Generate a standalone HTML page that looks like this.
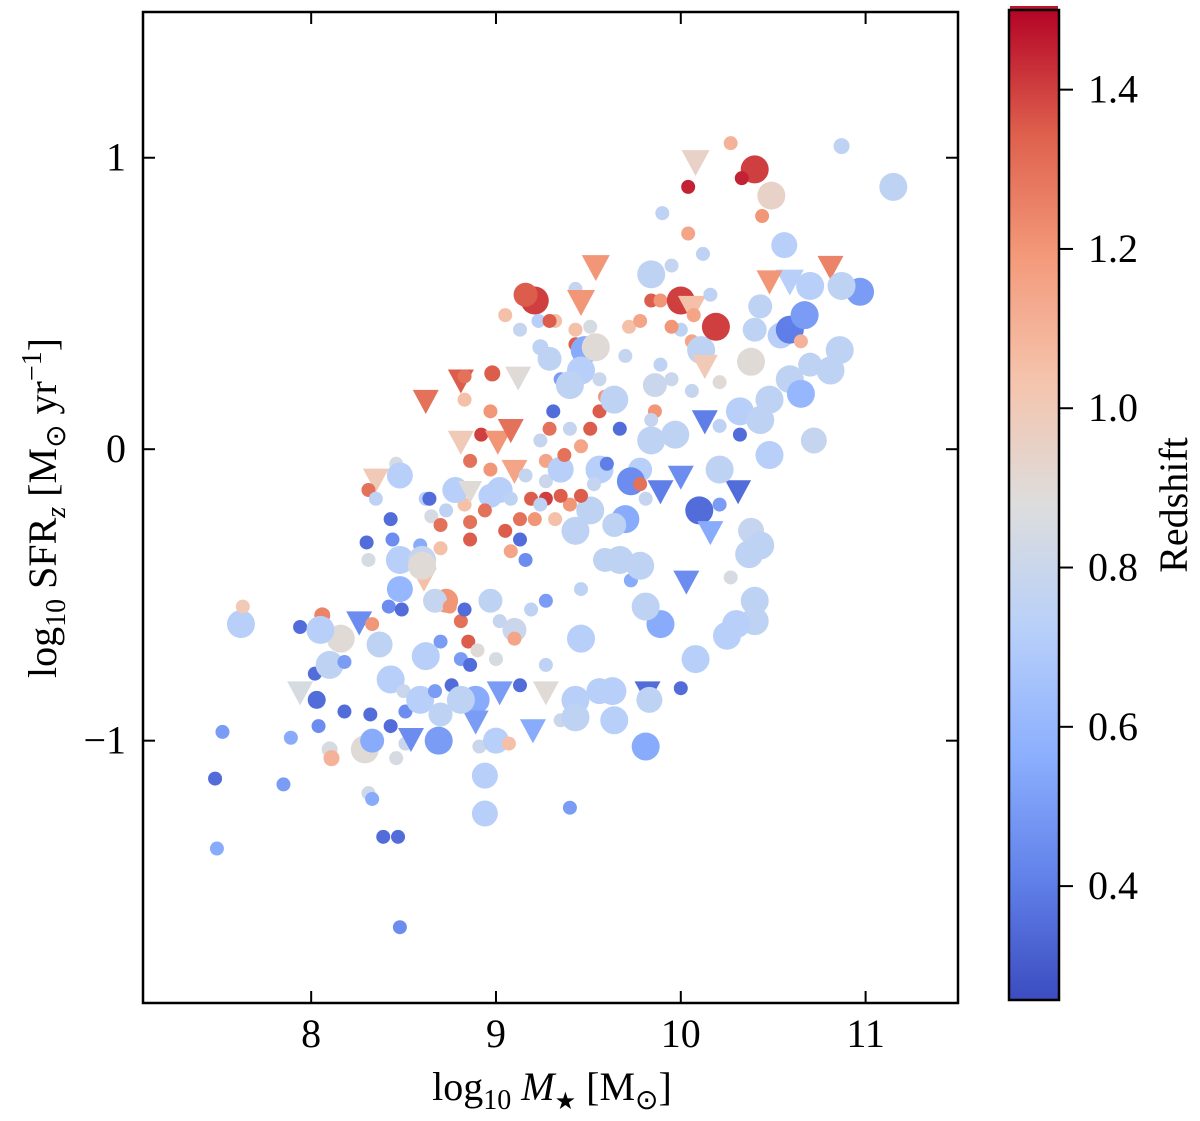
<!DOCTYPE html>
<html><head><meta charset="utf-8">
<style>
html,body{margin:0;padding:0;background:#fff;}
svg text{font-family:"Liberation Serif","Times New Roman",serif;}
</style></head>
<body>
<svg id="chart" width="1200" height="1116" viewBox="0 0 1200 1116" xmlns="http://www.w3.org/2000/svg" font-family="Liberation Serif, serif">
<defs>
<linearGradient id="cbgrad" x1="0" y1="1" x2="0" y2="0">
<stop offset="0" stop-color="rgb(59,76,192)"/>
<stop offset="0.125" stop-color="rgb(98,130,234)"/>
<stop offset="0.25" stop-color="rgb(141,176,254)"/>
<stop offset="0.375" stop-color="rgb(184,208,249)"/>
<stop offset="0.5" stop-color="rgb(221,221,221)"/>
<stop offset="0.625" stop-color="rgb(245,196,173)"/>
<stop offset="0.75" stop-color="rgb(244,154,123)"/>
<stop offset="0.875" stop-color="rgb(222,96,77)"/>
<stop offset="1" stop-color="rgb(180,4,38)"/>
</linearGradient>
<clipPath id="plotclip"><rect x="143" y="12" width="815" height="991"/></clipPath>
</defs>
<g id="points" clip-path="url(#plotclip)"></g>
<rect x="143" y="12" width="815" height="991" fill="none" stroke="#000" stroke-width="2.5"/>
<g id="axes"></g>
<text x="552" y="1100" font-size="40" text-anchor="middle">log<tspan font-size="28" dy="9">10</tspan><tspan dy="-9"> </tspan><tspan font-style="italic">M</tspan><tspan font-size="24" dy="9">★</tspan><tspan dy="-9"> [M</tspan><tspan font-size="28" dy="9">⊙</tspan><tspan dy="-9">]</tspan></text>
<text transform="translate(56,508) rotate(-90)" font-size="40" text-anchor="middle">log<tspan font-size="28" dy="9">10</tspan><tspan dy="-9"> SFR</tspan><tspan font-size="28" font-style="italic" dy="9">z</tspan><tspan dy="-9"> [M</tspan><tspan font-size="28" dy="9">⊙</tspan><tspan dy="-9"> yr</tspan><tspan font-size="28" dy="-15">−1</tspan><tspan dy="15">]</tspan></text>
<rect x="1010" y="6" width="48" height="4" fill="rgb(190,20,45)"/>
<rect x="1009" y="10" width="50" height="990" fill="url(#cbgrad)" stroke="#000" stroke-width="2.5"/>
<g id="cbticks"></g>
<text transform="translate(1187,505) rotate(-90)" font-size="40" text-anchor="middle">Redshift</text>
</svg>
<script>
const mass=[
7.49,7.48,7.52,7.62,7.63,7.85,7.89,7.94,7.94,8.03,
8.04,8.02,8.1,8.1,8.11,8.16,8.06,8.05,8.18,8.18,
8.26,8.31,8.3,8.29,8.33,8.32,8.31,8.33,8.39,8.47,
8.48,8.33,8.37,8.42,8.43,8.43,8.51,8.51,8.46,8.5,
8.54,8.35,8.31,8.35,8.46,8.48,8.43,8.44,8.48,8.48,
8.49,8.59,8.62,8.6,8.61,8.6,8.62,8.65,8.7,8.7,
8.73,8.73,8.7,8.67,8.62,8.59,8.67,8.7,8.76,8.75,
8.81,8.83,8.85,8.81,8.86,8.9,8.89,8.89,8.69,8.81,
8.94,8.94,8.91,9.0,9.07,9.02,9.13,9.2,9.27,9.27,
9.35,9.4,9.43,9.43,9.56,9.46,9.46,9.27,9.19,9.1,
9.02,9.0,9.1,8.97,8.86,8.86,8.83,8.78,8.81,8.81,
8.83,8.83,8.92,8.86,8.97,8.97,9.02,9.01,9.08,9.1,
9.08,9.05,9.13,9.16,9.13,9.19,9.21,9.27,9.27,9.32,
9.35,9.24,9.29,9.31,9.35,9.43,9.43,9.48,9.46,9.29,
9.4,9.21,9.16,9.32,9.43,9.46,9.54,9.51,9.54,9.56,
9.56,9.59,9.64,9.67,9.7,9.72,9.78,9.84,9.89,9.84,
9.95,10.0,10.06,10.0,10.06,10.11,10.19,10.13,10.21,10.13,
10.06,9.95,9.89,9.86,9.84,9.78,9.73,9.78,9.7,9.81,
9.89,10.0,9.97,10.1,10.21,10.16,10.31,10.32,10.21,10.32,
10.43,10.48,10.48,10.59,10.72,10.65,10.7,10.81,10.86,10.54,
10.59,10.65,10.67,10.7,10.59,10.48,10.81,10.97,10.87,10.56,
10.43,10.4,10.38,10.87,11.15,10.4,10.33,10.27,10.49,10.44,
10.08,10.04,9.9,10.04,10.12,10.16,10.07,9.95,9.86,9.84,
10.21,10.38,10.37,10.43,10.4,10.4,10.3,10.25,10.27,10.03,
10.08,10.0,9.82,9.83,9.89,9.81,9.73,9.78,9.67,9.59,
9.63,9.64,9.81,9.43,9.51,9.64,9.56,9.6,9.53,9.46,
9.51,9.4,9.37,9.4,9.46,9.35,9.27,9.24,9.16,9.08,
8.97,8.94,8.86,9.12,8.98,9.05,9.13,9.24,9.23,9.29,
8.64];
const sfr=[
-1.37,-1.13,-0.97,-0.6,-0.54,-1.15,-0.99,-0.61,-0.83,-0.86,
-0.95,-0.77,-0.74,-1.03,-1.06,-0.65,-0.57,-0.62,-0.73,-0.9,
-0.59,-0.38,-0.32,-1.03,-1.0,-0.91,-1.18,-1.2,-1.33,-1.33,
-1.64,-0.6,-0.67,-0.54,-0.79,-0.95,-0.9,-1.01,-1.06,-0.83,
-0.99,-0.1,-0.14,-0.17,-0.05,-0.09,-0.24,-0.31,-0.38,-0.48,
-0.55,-0.33,-0.17,-0.38,-0.44,-0.4,0.17,-0.23,-0.26,-0.34,
-0.21,-0.52,-0.66,-0.52,-0.71,-0.86,-0.83,-0.91,-0.81,-0.54,
-0.59,-0.55,-0.66,-0.72,-0.74,-0.69,-0.86,-0.93,-1.0,-0.86,
-1.12,-1.25,-1.02,-1.0,-1.01,-0.83,-0.81,-0.96,-0.83,-0.74,
-0.93,-1.23,-0.86,-0.92,-0.83,-0.65,-0.48,-0.52,-0.55,-0.62,
-0.59,-0.72,-0.65,-0.52,-0.31,-0.25,-0.19,-0.14,0.03,0.24,
0.17,0.25,0.05,-0.04,0.13,-0.07,-0.14,0.03,0.07,-0.07,
-0.35,-0.28,-0.31,-0.38,-0.24,-0.17,-0.24,-0.11,-0.04,-0.24,
-0.07,0.03,0.07,0.13,0.24,0.36,0.41,0.34,0.27,0.31,
0.22,0.51,0.53,0.44,0.55,0.51,0.63,0.42,0.35,0.13,
0.24,0.18,0.17,0.07,0.32,0.42,0.44,0.51,0.51,0.6,
0.63,0.51,0.49,0.41,0.37,0.34,0.42,0.29,0.23,0.1,
0.2,0.24,0.29,0.13,0.03,-0.07,-0.11,-0.12,-0.24,-0.17,
-0.14,-0.09,0.05,-0.21,-0.19,-0.28,-0.14,0.05,0.08,0.13,
0.1,-0.02,0.17,0.24,0.03,0.19,0.29,0.27,0.34,0.39,
0.41,0.37,0.46,0.56,0.58,0.58,0.63,0.54,0.56,0.7,
0.49,0.41,0.3,1.04,0.9,0.96,0.93,1.05,0.87,0.8,
0.99,0.9,0.81,0.74,0.67,0.53,0.46,0.42,0.22,0.1,
-0.07,-0.28,-0.36,-0.33,-0.52,-0.59,-0.6,-0.64,-0.44,-0.45,
-0.72,-0.82,-0.83,-0.86,-0.6,-0.54,-0.45,-0.4,-0.38,-0.38,
-0.83,-0.93,-1.02,-0.28,-0.21,-0.26,-0.07,-0.05,-0.12,0.01,
0.07,0.07,-0.02,-0.19,-0.16,-0.16,-0.17,-0.19,-0.09,-0.17,
-0.16,-0.21,-0.14,0.25,0.26,0.46,0.41,0.35,0.44,0.44,
-0.17];
const redshift=[
0.55,0.35,0.5,0.72,1.0,0.5,0.55,0.35,0.85,0.35,
0.45,0.35,0.75,0.85,1.1,0.9,1.25,0.72,0.5,0.35,
0.45,0.85,0.35,0.9,0.55,0.35,0.82,0.55,0.35,0.35,
0.45,1.2,0.75,0.45,0.72,0.35,0.45,0.8,0.85,0.8,
0.45,1.0,1.3,0.75,0.85,0.72,0.35,0.45,0.72,0.6,
0.35,0.55,0.72,0.78,1.05,0.9,1.3,0.85,1.3,1.05,
0.75,1.2,0.5,0.78,0.72,0.72,0.5,0.75,0.35,1.2,
1.3,0.35,1.35,0.5,0.35,0.9,0.55,0.5,0.5,0.75,
0.72,0.72,0.8,0.72,1.05,0.5,0.35,0.55,0.9,0.75,
0.8,0.5,0.72,0.75,0.72,0.72,0.75,0.5,0.75,0.8,
0.78,0.85,1.15,0.75,1.35,1.3,1.05,0.72,1.0,1.35,
1.05,1.3,1.4,1.3,1.2,1.2,0.72,1.2,1.3,1.15,
1.15,1.35,0.35,0.45,1.3,1.35,1.2,0.8,1.15,1.05,
0.72,0.78,1.3,0.35,0.5,1.35,1.05,0.55,0.72,0.75,
0.75,1.4,1.35,1.05,0.78,1.2,1.2,0.85,0.9,1.35,
0.8,1.2,0.75,0.35,0.78,1.05,1.15,1.35,1.2,0.75,
0.78,1.4,1.05,0.75,1.15,0.75,1.4,1.0,0.9,0.4,
0.78,0.8,0.75,1.2,0.75,0.72,0.45,1.3,0.55,0.78,
0.4,0.45,0.75,0.35,0.5,0.55,0.35,0.35,0.75,0.72,
0.75,0.72,0.75,0.75,0.78,0.6,0.75,0.75,0.75,0.72,
0.4,1.1,0.5,0.72,0.72,1.2,1.25,0.5,0.75,0.72,
0.75,0.75,0.9,0.75,0.75,1.4,1.45,1.1,0.95,1.2,
0.95,1.45,0.75,1.15,0.75,0.75,1.15,1.2,0.8,0.78,
0.75,0.78,0.75,0.75,0.75,0.75,0.72,0.72,0.85,0.45,
0.72,0.35,0.35,0.75,0.55,0.75,0.55,0.75,0.75,0.75,
0.72,0.72,0.55,0.75,0.75,0.75,0.72,0.4,0.78,1.15,
1.35,0.78,1.3,1.2,1.35,1.35,1.4,0.75,0.78,0.75,
0.72,1.3,0.9,0.9,1.35,1.05,0.78,0.75,0.72,1.35,
0.35];
const msize=[
7,7,7,14,7,7,7,7,13,9,
7,7,14,8,8,14,8,14,7,7,
13,7,7,14,12,7,7,7,7,7,
7,7,13,7,14,7,7,7,7,7,
13,13,7,7,7,13,7,7,14,13,
7,7,7,14,13,14,13,7,7,7,
7,12,7,12,14,14,7,12,7,7,
7,7,7,7,7,7,14,13,14,14,
13,13,7,13,7,13,7,13,13,7,
7,7,14,14,13,14,7,7,7,12,
7,7,7,12,7,7,7,13,13,13,
7,7,7,7,7,7,13,13,13,13,
7,7,7,7,7,7,7,7,7,7,
13,7,7,7,7,7,7,14,14,12,
14,14,12,7,7,14,14,7,14,7,
7,7,14,7,7,7,7,7,7,14,
7,14,14,7,7,14,14,13,7,13,
7,7,7,7,14,12,14,7,14,7,
13,13,14,14,7,13,13,7,7,14,
14,14,14,14,13,14,12,14,14,13,
14,7,14,14,14,13,13,14,14,13,
12,12,14,8,14,14,7,7,14,7,
14,7,7,7,7,7,7,7,12,7,
14,13,14,14,14,14,14,14,7,13,
14,7,13,13,14,14,7,14,14,12,
14,14,14,14,14,12,14,7,7,7,
7,7,7,7,7,7,7,7,7,7,
12,7,12,13,8,7,7,8,7,7,
7];
const tri=[
0,0,0,0,0,0,0,0,1,0,
0,0,0,0,0,0,0,0,0,0,
1,0,0,0,0,0,0,0,0,0,
0,0,0,0,0,0,0,0,0,0,
1,1,0,0,0,0,0,0,0,0,
0,0,0,0,1,0,1,0,0,0,
0,0,0,0,0,0,0,0,0,0,
0,0,0,0,0,0,0,1,0,0,
0,0,0,0,0,1,0,1,1,0,
0,0,0,0,0,0,0,0,0,0,
0,0,0,0,0,0,0,0,1,1,
0,0,0,0,0,0,0,1,1,1,
0,0,0,0,0,0,0,0,0,0,
0,0,0,0,0,0,0,0,0,0,
0,0,0,0,0,1,1,0,0,0,
0,0,0,0,0,0,0,0,0,0,
0,0,1,0,0,0,0,1,0,1,
0,0,0,0,0,0,0,0,0,0,
1,1,0,0,0,1,1,0,0,0,
0,0,0,0,0,0,0,0,0,0,
0,0,0,0,1,1,1,0,0,0,
0,0,0,0,0,0,0,0,0,0,
1,0,0,0,0,0,0,0,0,0,
0,0,0,0,0,0,0,0,0,1,
0,0,1,0,0,0,0,0,0,0,
0,0,0,0,0,0,0,0,0,0,
0,0,0,0,0,0,0,0,0,0,
0,0,1,1,0,0,0,0,0,0,
0];
const xTicks=[8,9,10,11];
const yTicks=[1,0,-1];
const cTicks=[0.4,0.6,0.8,1.0,1.2,1.4];
const cLabels=["0.4","0.6","0.8","1.0","1.2","1.4"];

const NS="http://www.w3.org/2000/svg";
const X0=143,X1=958,Y0=12,Y1=1003,XMIN=7.09,XMAX=11.5,YMIN=-1.9,YMAX=1.5,ZMIN=0.257,ZMAX=1.5;
const CB0=10,CB1=1000;
function sx(v){return X0+(v-XMIN)/(XMAX-XMIN)*(X1-X0);}
function sy(v){return Y1-(v-YMIN)/(YMAX-YMIN)*(Y1-Y0);}
function sc(v){return CB1-(v-ZMIN)/(ZMAX-ZMIN)*(CB1-CB0);}
const stops=[[59,76,192],[98,130,234],[141,176,254],[184,208,249],[221,221,221],[245,196,173],[244,154,123],[222,96,77],[180,4,38]];
function cmap(z){let t=(z-ZMIN)/(ZMAX-ZMIN);t=Math.max(0,Math.min(1,t))*8;let i=Math.min(7,Math.floor(t)),f=t-i;const a=stops[i],b=stops[i+1];
 return "rgb("+a.map((c,k)=>Math.round(c+(b[k]-c)*f)).join(",")+")";}
function mk(tag,attrs,parent){const e=document.createElementNS(NS,tag);for(const k in attrs)e.setAttribute(k,attrs[k]);parent.appendChild(e);return e;}

const pg=document.getElementById('points');
const n=Math.min(mass.length,sfr.length,redshift.length,msize.length,tri.length);
for(let i=0;i<n;i++){
  const x=sx(mass[i]),y=sy(sfr[i]),r=msize[i],col=cmap(redshift[i]);
  let el;
  if(tri[i]){el=mk('polygon',{points:(x-r)+","+(y-r*0.75)+" "+(x+r)+","+(y-r*0.75)+" "+x+","+(y+r*1.1),fill:col},pg);
    
    }
  else{el=mk('circle',{cx:x,cy:y,r:r,fill:col},pg);
    
    }
}
const ax=document.getElementById('axes');
for(const t of xTicks){const x=sx(t);
  let a=mk('line',{x1:x,x2:x,y1:Y1,y2:Y1-12,stroke:'#000','stroke-width':2},ax);
  
  
  let b=mk('line',{x1:x,x2:x,y1:Y0,y2:Y0+12,stroke:'#000','stroke-width':2},ax);
  
  
  let l=mk('text',{x:x,y:1047,'font-size':40,'text-anchor':'middle'},ax);l.textContent=String(t);
  
  
}
for(const t of yTicks){const y=sy(t);
  let a=mk('line',{x1:X0,x2:X0+12,y1:y,y2:y,stroke:'#000','stroke-width':2},ax);
  
  
  let b=mk('line',{x1:X1,x2:X1-12,y1:y,y2:y,stroke:'#000','stroke-width':2},ax);
  
  
  let l=mk('text',{x:126,y:y+13,'font-size':40,'text-anchor':'end'},ax);l.textContent=t<0?"−"+Math.abs(t):String(t);
  
  
}
const cg=document.getElementById('cbticks');
cTicks.forEach((t,i)=>{const y=sc(t);
  let a=mk('line',{x1:1059,x2:1073,y1:y,y2:y,stroke:'#000','stroke-width':2},cg);
  
  
  let l=mk('text',{x:1088,y:y+13,'font-size':40},cg);l.textContent=cLabels[i];
  
  
});
</script>
</body></html>
